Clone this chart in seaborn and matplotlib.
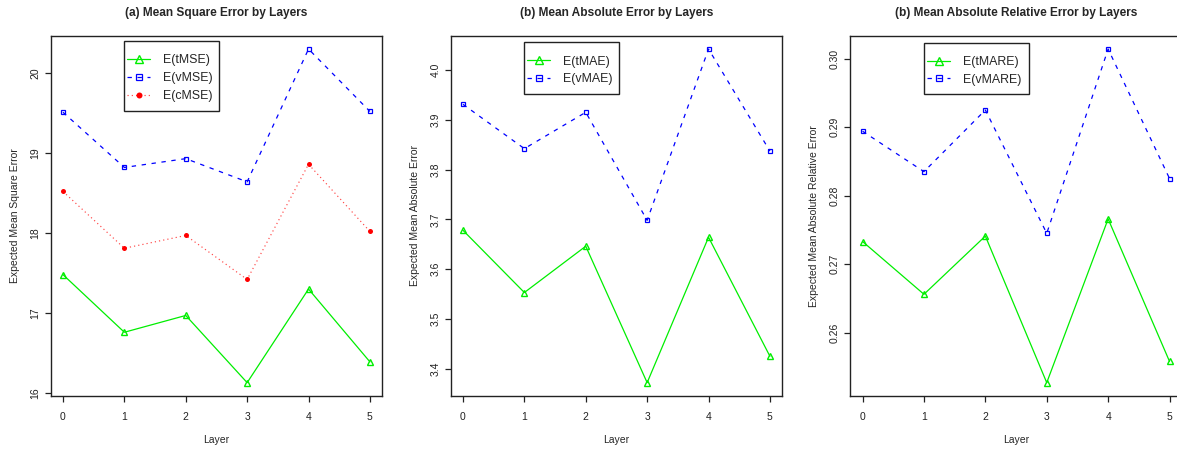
import matplotlib
matplotlib.use("Agg")
import matplotlib.pyplot as plt
from matplotlib.patches import Rectangle
import seaborn as sns
import numpy as np

# ---- data ----
layers = [0, 1, 2, 3, 4, 5]

t_mse = [17.48, 16.76, 16.97, 16.13, 17.30, 16.39]
v_mse = [19.51, 18.82, 18.93, 18.64, 20.30, 19.52]
c_mse = [18.52, 17.81, 17.97, 17.42, 18.86, 18.02]

t_mae = [3.678, 3.553, 3.646, 3.372, 3.664, 3.425]
v_mae = [3.931, 3.842, 3.915, 3.698, 4.042, 3.837]

t_mare = [0.2733, 0.2656, 0.2741, 0.2527, 0.2766, 0.2558]
v_mare = [0.2894, 0.2835, 0.2925, 0.2745, 0.3014, 0.2825]

titles = ["(a) Mean Square Error by Layers",
          "(b) Mean Absolute Error by Layers",
          "(b) Mean Absolute Relative Error by Layers"]
ylabels = ["Expected Mean Square Error",
           "Expected Mean Absolute Error",
           "Expected Mean Absolute Relative Error"]
yticks_list = [[16, 17, 18, 19, 20],
               [3.4, 3.5, 3.6, 3.7, 3.8, 3.9, 4.0],
               [0.26, 0.27, 0.28, 0.29, 0.30]]
ytick_labels = [["16", "17", "18", "19", "20"],
                ["3.4", "3.5", "3.6", "3.7", "3.8", "3.9", "4.0"],
                ["0.26", "0.27", "0.28", "0.29", "0.30"]]
legend_labels = [["E(tMSE)", "E(vMSE)", "E(cMSE)"],
                 ["E(tMAE)", "E(vMAE)"],
                 ["E(tMARE)", "E(vMARE)"]]
series = [[t_mse, v_mse, c_mse], [t_mae, v_mae], [t_mare, v_mare]]

# ---- style ----
sns.set_style("white")
plt.rcParams["font.family"] = ["Liberation Sans", "DejaVu Sans"]
plt.rcParams["axes.linewidth"] = 1.0
plt.rcParams["axes.edgecolor"] = "#222222"

styles = [
    dict(color="#00ee00", marker="^", markersize=4.6, markerfacecolor="none",
         markeredgewidth=1.0, linestyle="-", linewidth=0.9),
    dict(color="#0000ff", marker="s", markersize=3.4, markerfacecolor="none",
         markeredgewidth=0.9, linestyle=(0, (3.5, 4.5)), linewidth=0.9),
    dict(color="#ff4545", marker="o", markersize=3.6, markerfacecolor="#ff0000",
         markeredgewidth=0, linestyle=(0, (1, 2.6)), linewidth=0.85),
]

# legend frame boxes (axes fraction): x0, x1, y0, y1
legend_boxes = [(0.222, 0.509, 0.791, 0.985),
                (0.222, 0.509, 0.837, 0.982),
                (0.223, 0.538, 0.837, 0.981)]

W, H = 1177, 449
fig = plt.figure(figsize=(W / 100, H / 100), dpi=100)
lefts = [50.7, 450.7, 850.3]
ax_w, ax_top, ax_bot = 331.5, 35.7, 396.0

for i in range(3):
    ax = fig.add_axes([lefts[i] / W, (H - ax_bot) / H, ax_w / W, (ax_bot - ax_top) / H])
    allv = np.concatenate([np.asarray(s, float) for s in series[i]])
    lo, hi = allv.min(), allv.max()
    pad = 0.04 * (hi - lo)
    for j, s in enumerate(series[i]):
        st = styles[j]
        sns.lineplot(x=layers, y=s, ax=ax, label=legend_labels[i][j],
                     markeredgecolor=st["color"], **st)
    ax.set_xlim(-0.2, 5.2)
    ax.set_ylim(lo - pad, hi + pad)
    ax.set_xticks(layers)
    ax.set_xticklabels([str(l) for l in layers])
    ax.set_yticks(yticks_list[i])
    ax.set_yticklabels(ytick_labels[i], rotation=90, va="center")
    ax.tick_params(axis="both", direction="out", length=4, width=0.9,
                   colors="#222222", labelsize=7.5, bottom=True, left=True)
    ax.tick_params(axis="x", pad=7.5)
    ax.tick_params(axis="y", pad=3.5)
    for sp in ax.spines.values():
        sp.set_visible(True)
        sp.set_color("#222222")
    ax.set_title(titles[i], fontsize=8.6, fontweight="bold", pad=14)
    ax.set_xlabel("Layer", fontsize=7.5)
    ax.set_ylabel(ylabels[i], fontsize=7.5)
    ax.yaxis.set_label_coords(-0.094, 0.5)
    ax.xaxis.set_label_coords(0.5, -0.107)

    x0, x1, y0, y1 = legend_boxes[i]
    ax.add_patch(Rectangle((x0, y0), x1 - x0, y1 - y0, transform=ax.transAxes,
                           facecolor="white", edgecolor="#222222",
                           linewidth=1.0, zorder=5))
    leg = ax.legend(loc="upper left", bbox_to_anchor=(x0 + 0.008, y1 - 0.037),
                    fontsize=8.9, numpoints=1, handlelength=1.9,
                    handletextpad=1.0, borderpad=0, labelspacing=0.47,
                    borderaxespad=0, frameon=False, markerscale=1.2)
    leg.set_zorder(6)

fig.savefig("out.png", dpi=100)
